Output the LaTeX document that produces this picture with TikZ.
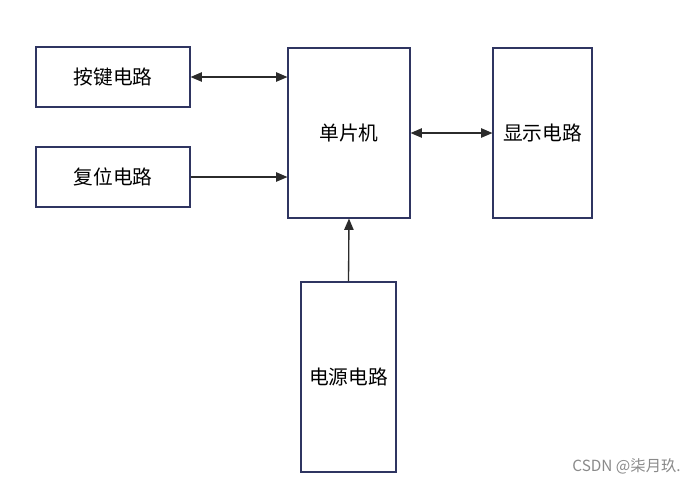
\documentclass[tikz,border=0pt]{standalone}
\usepackage{fontspec}
\setmainfont{Noto Sans CJK SC}
\usetikzlibrary{arrows.meta}
\definecolor{boxline}{HTML}{2F3561}
\definecolor{arrowc}{HTML}{2B2B2B}
\definecolor{wm}{HTML}{8A8A8A}
\tikzset{
  blockbox/.style={draw=boxline, line width=0.8pt, fill=white, inner sep=0pt, font=\fontsize{14.8pt}{16pt}\selectfont},
  conn/.style={draw=arrowc, line width=1pt, -{Triangle[length=8.5pt,width=7pt]}},
  bconn/.style={draw=arrowc, line width=1pt, {Triangle[length=8.5pt,width=7pt]}-{Triangle[length=8.5pt,width=7pt]}},
}
\begin{document}
\begin{tikzpicture}[x=0.75pt,y=-0.75pt]
\useasboundingbox (0,0) rectangle (693,483);
\fill[white] (0,0) rectangle (693,483);
\node[blockbox, minimum width=115.5pt, minimum height=45pt] (key) at (113,77) {按键电路};
\node[blockbox, minimum width=115.5pt, minimum height=45pt] (reset) at (113,177) {复位电路};
\node[blockbox, minimum width=91.5pt, minimum height=127.5pt] (mcu) at (349,133) {单片机};
\node[blockbox, minimum width=74.25pt, minimum height=127.5pt] (disp) at (542.5,133) {显示电路};
\node[blockbox, minimum width=71.25pt, minimum height=142.5pt] (power) at (348.5,377) {电源电路};
\draw[bconn] (key.east) -- (key.east -| mcu.west);
\draw[conn] (reset.east) -- (reset.east -| mcu.west);
\draw[bconn] (mcu.east) -- (disp.west);
\draw[conn] (power.north) -- (mcu.south);
\node[text=wm, font=\fontsize{11.5pt}{13pt}\selectfont, anchor=east, inner sep=0pt] (wmark) at (681,466) {CSDN @柒月玖.};
\end{tikzpicture}
\end{document}
